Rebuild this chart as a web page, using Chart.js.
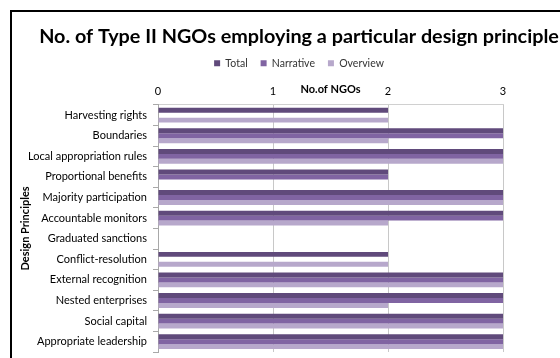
<!DOCTYPE html>
<html>
<head>
<meta charset="utf-8">
<script src="https://cdn.jsdelivr.net/npm/chart.js@4/dist/chart.umd.min.js"></script>
<style>
  html, body { margin: 0; padding: 0; overflow: hidden; background: #fff; }
  #marco { position: absolute; left: 10px; top: 10px; width: 574px; height: 400px; border: 2px solid #000; }
  #grafico { display: block; }
</style>
</head>
<body>
<div id="marco"><canvas id="grafico" width="574" height="346"></canvas></div>
<script>
// datos
const principios = ["Harvesting rights", "Boundaries", "Local appropriation rules", "Proportional benefits",
  "Majority participation", "Accountable monitors", "Graduated sanctions", "Conflict-resolution",
  "External recognition", "Nested enterprises", "Social capital", "Appropriate leadership"];
const total     = [2, 3, 3, 2, 3, 3, 0, 2, 3, 3, 3, 3];
const narrative = [0, 3, 3, 2, 3, 3, 0, 0, 3, 3, 3, 3];
const overview  = [2, 2, 3, 0, 3, 2, 0, 2, 3, 2, 3, 3];
const ticksX = [0, 1, 2, 3];

const fuente = "Lato";
Chart.defaults.font.family = fuente;
Chart.defaults.color = "#000";

const ctx = document.getElementById("grafico");
const myChart = new Chart(ctx, {
  type: "bar",
  data: {
    labels: principios,
    datasets: [
      { label: "Total", data: total, backgroundColor: "#604a7b" },
      { label: "Narrative", data: narrative, backgroundColor: "#8064a2" },
      { label: "Overview", data: overview, backgroundColor: "#b7a8cb" }
    ]
  },
  options: {
    indexAxis: "y",
    responsive: false,
    animation: false,
    events: [],
    datasets: { bar: { categoryPercentage: 0.72, barPercentage: 1.0, borderWidth: 0 } },
    layout: { padding: { top: 0, left: 0, right: 0, bottom: 6 } },
    plugins: {
      title: {
        display: true,
        text: "No. of Type II NGOs employing a particular design principle",
        font: { size: 19.8, weight: "bold" },
        padding: { top: 13, bottom: -3.7 },
        color: "#000"
      },
      legend: {
        display: true,
        position: "top",
        labels: { boxWidth: 6, boxHeight: 6, padding: 13, font: { size: 10.5 }, color: "#333" }
      },
      tooltip: { enabled: false }
    },
    scales: {
      x: {
        position: "top",
        min: 0,
        max: 3,
        afterBuildTicks: (scale) => { scale.ticks = ticksX.map(v => ({ value: v })); },
        afterFit: (scale) => { scale.height = 26.3; },
        ticks: { padding: 7, font: { size: 11 } },
        grid: { color: "#c8c8c8", drawTicks: false },
        border: { color: "#d0d0d0" },
        title: { display: true, text: "No.of NGOs", font: { size: 11, weight: "bold" }, padding: { top: 3.9, bottom: 0 } }
      },
      y: {
        afterFit: (scale) => { scale.width = 146; scale.paddingTop = 0; scale.paddingBottom = 0; },
        ticks: { padding: 6, font: { size: 11 } },
        grid: { drawOnChartArea: false, drawTicks: true, tickLength: 5, color: "#a8a8a8" },
        border: { color: "#a8a8a8" },
        title: { display: true, text: "Design Principles", font: { size: 11, weight: "bold" }, padding: { top: 7, bottom: 0 } }
      },
      derecha: {
        type: "linear",
        position: "right",
        afterFit: (scale) => { scale.width = 83; scale.paddingTop = 0; scale.paddingBottom = 0; },
        ticks: { display: false },
        grid: { display: false },
        border: { display: false }
      }
    }
  }
});
</script>
</body>
</html>
